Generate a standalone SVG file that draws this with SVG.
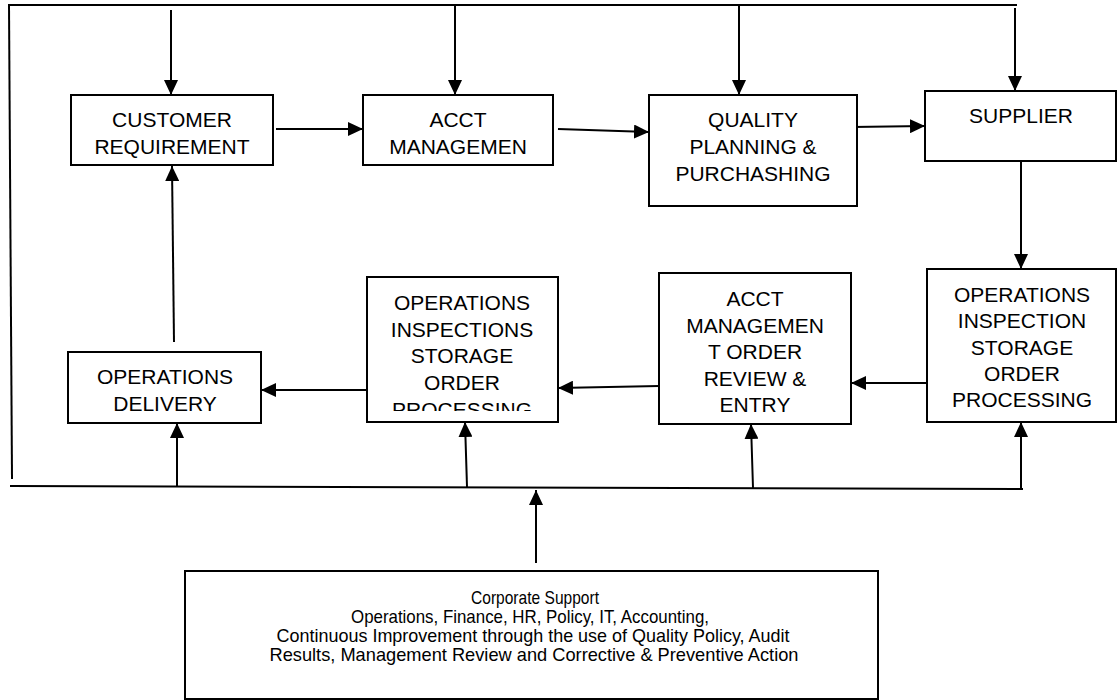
<svg xmlns="http://www.w3.org/2000/svg" width="1118" height="700" viewBox="0 0 1118 700">
<defs>
<marker id="ah" markerUnits="userSpaceOnUse" markerWidth="16" markerHeight="14" refX="15" refY="7" orient="auto">
<path d="M0,0 L15,7 L0,14 Z" fill="#000"/>
</marker>
<clipPath id="clipOIS"><rect x="367" y="277" width="191" height="134"/></clipPath>
</defs>
<style>
.box{fill:#fff;stroke:#000;stroke-width:2}
.t{font-family:"Liberation Sans",Arial,sans-serif;font-size:21px;fill:#000;text-anchor:middle}
.s{font-family:"Liberation Sans",Arial,sans-serif;font-size:19px;fill:#000;text-anchor:middle}
.ln{stroke:#000;stroke-width:2;fill:none}
.ar{stroke:#000;stroke-width:2;fill:none;marker-end:url(#ah)}
</style>
<rect width="1118" height="700" fill="#fff"/>
<g id="connectors">
<line class="ln" x1="8" y1="5" x2="1017" y2="5"/>
<line class="ln" x1="9" y1="5" x2="12" y2="479"/>
<line class="ln" x1="10" y1="486" x2="1023" y2="489"/>
<line class="ar" x1="171" y1="10" x2="171" y2="95"/>
<line class="ar" x1="455" y1="6" x2="455" y2="95"/>
<line class="ar" x1="739" y1="6" x2="739" y2="95"/>
<line class="ar" x1="1015" y1="8" x2="1015" y2="91"/>
<line class="ar" x1="276" y1="129" x2="363" y2="129"/>
<line class="ar" x1="558" y1="129" x2="649" y2="132"/>
<line class="ar" x1="852" y1="127" x2="925" y2="126"/>
<line class="ar" x1="1021" y1="161" x2="1021" y2="269"/>
<line class="ar" x1="927" y1="383" x2="851" y2="383"/>
<line class="ar" x1="659" y1="386" x2="558" y2="388"/>
<line class="ar" x1="366" y1="390" x2="261" y2="390"/>
<line class="ar" x1="174" y1="342" x2="172" y2="166"/>
<line class="ar" x1="177" y1="486" x2="177" y2="423"/>
<line class="ar" x1="467" y1="487" x2="465" y2="422"/>
<line class="ar" x1="753" y1="488" x2="751" y2="424"/>
<line class="ar" x1="1021" y1="489" x2="1021" y2="422"/>
<line class="ar" x1="536" y1="563" x2="536" y2="490"/>
</g>
<g id="customer-requirement">
<rect class="box" x="71" y="95" width="202" height="70"/>
<text class="t" x="172" y="127">CUSTOMER</text>
<text class="t" x="172" y="154">REQUIREMENT</text>
</g>
<g id="acct-managemen">
<rect class="box" x="363" y="95" width="190" height="70"/>
<text class="t" x="458" y="127">ACCT</text>
<text class="t" x="458" y="154">MANAGEMEN</text>
</g>
<g id="quality-planning">
<rect class="box" x="649" y="95" width="208" height="111"/>
<text class="t" x="753" y="127">QUALITY</text>
<text class="t" x="753" y="154">PLANNING &amp;</text>
<text class="t" x="753" y="181">PURCHASHING</text>
</g>
<g id="supplier">
<rect class="box" x="925" y="91" width="191" height="70"/>
<text class="t" x="1021" y="123">SUPPLIER</text>
</g>
<g id="operations-inspection">
<rect class="box" x="927" y="269" width="189" height="153"/>
<text class="t" x="1022" y="302">OPERATIONS</text>
<text class="t" x="1022" y="328">INSPECTION</text>
<text class="t" x="1022" y="355">STORAGE</text>
<text class="t" x="1022" y="381">ORDER</text>
<text class="t" x="1022" y="407">PROCESSING</text>
</g>
<g id="acct-order-review">
<rect class="box" x="659" y="273" width="192" height="151"/>
<text class="t" x="755" y="306">ACCT</text>
<text class="t" x="755" y="333">MANAGEMEN</text>
<text class="t" x="755" y="359">T ORDER</text>
<text class="t" x="755" y="386">REVIEW &amp;</text>
<text class="t" x="755" y="412">ENTRY</text>
</g>
<g id="operations-inspections-storage">
<rect class="box" x="367" y="277" width="191" height="145"/>
<g clip-path="url(#clipOIS)">
<text class="t" x="462" y="310">OPERATIONS</text>
<text class="t" x="462" y="337">INSPECTIONS</text>
<text class="t" x="462" y="363">STORAGE</text>
<text class="t" x="462" y="390">ORDER</text>
<text class="t" x="462" y="417">PROCESSING</text>
</g>
</g>
<g id="operations-delivery">
<rect class="box" x="68" y="352" width="193" height="71"/>
<text class="t" x="165" y="384">OPERATIONS</text>
<text class="t" x="165" y="411">DELIVERY</text>
</g>
<g id="corporate-support">
<rect class="box" x="185" y="571" width="693" height="128"/>
<text class="s" x="535" y="604" textLength="128" lengthAdjust="spacingAndGlyphs">Corporate Support</text>
<text class="s" x="530" y="623" textLength="358" lengthAdjust="spacingAndGlyphs">Operations, Finance, HR, Policy, IT, Accounting,</text>
<text class="s" x="533" y="642" textLength="513" lengthAdjust="spacingAndGlyphs">Continuous Improvement through the use of Quality Policy, Audit</text>
<text class="s" x="534" y="661" textLength="529" lengthAdjust="spacingAndGlyphs">Results, Management Review and Corrective &amp; Preventive Action</text>
</g>
</svg>
